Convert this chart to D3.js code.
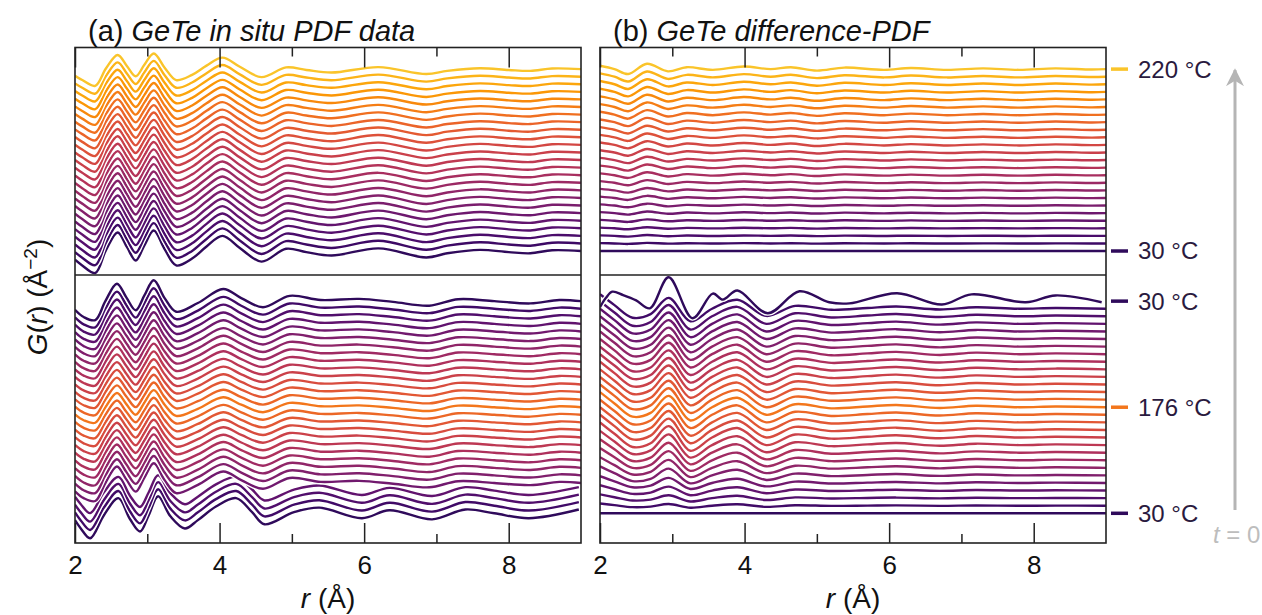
<!DOCTYPE html>
<html>
<head>
<meta charset="utf-8">
<script src="https://cdn.jsdelivr.net/npm/d3@7"></script>
<style>
  body { margin: 0; background: #fff; }
  svg { display: block; font-family: "Liberation Sans", Arial, sans-serif; }
</style>
</head>
<body>
<div id="chart"></div>
<script>
// ---- data ----
// temperatures of each scan, bottom curve first
const tempsUpper = [30, 38, 46, 54, 62, 70, 78, 85, 93, 101, 109, 117, 125, 133, 141, 149, 157, 164, 172, 180, 188, 196, 204, 212, 220];
const tempsLower = [30, 40, 51, 61, 72, 82, 93, 103, 113, 124, 134, 145, 155, 166, 176, 166, 155, 145, 134, 124, 113, 103, 93, 82, 72, 61, 51, 40, 30];

// G(r) shapes, [r, G] pairs
const profAUp = [[2.00,-2.3],[2.10,-3.8],[2.28,-5.8],[2.43,0.3],[2.59,4.9],[2.72,1.0],[2.84,-2.5],[2.96,1.5],[3.09,5.4],[3.24,0.5],[3.40,-3.8],[3.62,-2.0],[3.82,1.2],[4.04,4.0],[4.28,0.8],[4.58,-2.8],[4.92,0.6],[5.20,-0.3],[5.55,-1.2],[6.20,0.7],[6.86,-1.7],[7.15,-0.6],[7.60,0.3],[8.00,-0.3],[8.30,-0.6],[8.60,0.2],[9.00,0.0]];
const profALowInit = [[2.00,-1.8],[2.08,-4.0],[2.21,-6.6],[2.40,-0.5],[2.60,4.0],[2.76,-1.5],[2.90,-4.8],[3.02,-0.5],[3.15,4.5],[3.32,-0.8],[3.52,-4.0],[3.70,-1.8],[3.95,1.8],[4.23,4.0],[4.45,0.3],[4.62,-2.9],[5.03,0.3],[5.38,1.5],[5.97,-1.3],[6.35,0.8],[6.94,-1.6],[7.40,1.0],[7.80,0.0],[8.28,-1.3],[8.97,1.0]];
const profALowMain = [[2.00,-2.3],[2.12,-4.2],[2.28,-5.0],[2.42,0.0],[2.58,4.6],[2.71,1.0],[2.84,-2.4],[2.96,1.5],[3.09,5.5],[3.24,0.8],[3.40,-2.8],[3.70,-0.5],[4.05,3.2],[4.30,0.8],[4.60,-1.6],[4.97,1.4],[5.40,0.3],[5.93,0.6],[6.40,-0.2],[6.90,-1.2],[7.30,0.5],[7.80,0.0],[8.30,-0.6],[8.70,0.3],[9.00,0.0]];
const profBUp = [[2.00,0.9],[2.20,0.0],[2.39,-1.3],[2.65,1.4],[2.94,-0.6],[3.20,0.5],[3.56,-0.2],[3.99,0.7],[4.36,0.0],[4.64,0.5],[5.00,-0.4],[5.38,0.4],[5.93,-0.2],[6.30,0.3],[6.80,-0.2],[7.30,0.2],[7.80,-0.2],[8.30,0.2],[8.80,-0.1],[9.00,0.0]];
const profBLowMid = [[2.00,4.0],[2.20,1.0],[2.45,-2.5],[2.70,-1.5],[2.95,3.0],[3.25,-3.5],[3.55,0.0],[3.90,2.5],[4.30,-2.0],[4.70,0.8],[5.20,-0.3],[5.70,0.2],[6.10,0.6],[6.70,-0.2],[7.20,0.4],[7.80,0.0],[8.30,0.2],[9.00,0.0]];
const profBLowTop = [[2.00,-1.6],[2.08,0.8],[2.17,2.5],[2.32,1.6],[2.50,0.2],[2.69,-1.9],[2.95,6.3],[3.28,-4.5],[3.56,2.0],[3.70,0.4],[3.90,2.8],[4.32,-3.2],[4.76,2.6],[5.17,-0.3],[5.45,-0.6],[6.11,2.1],[6.73,-0.9],[7.14,1.8],[7.89,-0.3],[8.30,1.5],[8.94,-0.3]];

// which shape each curve uses and how strongly (bottom curve first)
const shapeAUp = Array(25).fill(0);
const ampAUp = [1.0, 0.99, 0.98, 0.97, 0.96, 0.95, 0.94, 0.93, 0.92, 0.91, 0.9, 0.89, 0.88, 0.87, 0.86, 0.85, 0.84, 0.83, 0.82, 0.81, 0.8, 0.79, 0.78, 0.77, 0.76];
const shapeALow = [0, 0, 0, 0, 1, 1, 1, 1, 1, 1, 1, 1, 1, 1, 1, 1, 1, 1, 1, 1, 1, 1, 1, 1, 1, 1, 1, 1, 1];
const ampALow = [1.0, 0.97, 0.94, 0.9, 0.95, 0.93, 0.92, 0.9, 0.88, 0.86, 0.85, 0.84, 0.83, 0.82, 0.82, 0.82, 0.83, 0.84, 0.85, 0.86, 0.87, 0.88, 0.89, 0.9, 0.92, 0.94, 0.96, 0.98, 1.0];
const shapeBUp = Array(25).fill(0);
const ampBUp = [0, 0.1, 0.15, 0.2, 0.25, 0.3, 0.35, 0.4, 0.45, 0.5, 0.55, 0.6, 0.63, 0.66, 0.7, 0.73, 0.76, 0.8, 0.83, 0.86, 0.89, 0.92, 0.95, 0.98, 1.0];
const shapeBLow = [0, 0, 0, 0, 0, 0, 0, 0, 0, 0, 0, 0, 0, 0, 0, 0, 0, 0, 0, 0, 0, 0, 0, 0, 0, 0, 0, 0, 1];
const ampBLow = [0, 0.15, 0.25, 0.35, 0.45, 0.6, 0.7, 0.8, 0.88, 0.94, 1.0, 1.0, 1.0, 1.0, 1.0, 1.0, 1.0, 1.0, 1.0, 1.0, 1.0, 1.0, 1.0, 1.0, 1.0, 1.0, 1.0, 0.95, 1.0];

const xTicksMajor = [2, 4, 6, 8];
const xTicksMinor = [3, 5, 7];
const legendItems = [
  { part: "upper", curve: 24, label: "220 °C" },
  { part: "upper", curve: 0, label: "30 °C" },
  { part: "lower", curve: 28, label: "30 °C" },
  { part: "lower", curve: 14, label: "176 °C" },
  { part: "lower", curve: 0, label: "30 °C" }
];

// ---- layout ----
const W = 1262, H = 615;
const STEP = 2;              // vertical offset between scans
const panels = [
  { id: "a", x0: 75, x1: 581, title: "(a) ", titleIt: "GeTe in situ PDF data" },
  { id: "b", x0: 600, x1: 1106, title: "(b) ", titleIt: "GeTe difference-PDF" }
];
const frameTop = 47.5, frameMid = 275, frameBottom = 543;

const svg = d3.select("#chart").append("svg")
  .attr("width", W).attr("height", H);

const color = T => d3.interpolateInferno(0.16 + 0.70 * (T - 30) / 190);

const yUp = d3.scaleLinear().domain([-6.33, 53.7]).range([frameMid, frameTop]);
const yLow = d3.scaleLinear().domain([-7.84, 62.9]).range([frameBottom, frameMid]);

const sections = {
  a: {
    upper: { temps: tempsUpper, shapes: [profAUp], shapeOf: shapeAUp, amps: ampAUp },
    lower: { temps: tempsLower, shapes: [profALowInit, profALowMain], shapeOf: shapeALow, amps: ampALow }
  },
  b: {
    upper: { temps: tempsUpper, shapes: [profBUp], shapeOf: shapeBUp, amps: ampBUp },
    lower: { temps: tempsLower, shapes: [profBLowMid, profBLowTop], shapeOf: shapeBLow, amps: ampBLow }
  }
};

const defs = svg.append("defs");

panels.forEach(p => {
  const x = d3.scaleLinear().domain([2, 9]).range([p.x0, p.x1]);
  const g = svg.append("g");

  [["upper", yUp, frameTop, frameMid], ["lower", yLow, frameMid, frameBottom]].forEach(([part, y, yt, yb]) => {
    const clipId = `clip-${p.id}-${part}`;
    defs.append("clipPath").attr("id", clipId)
      .append("rect").attr("x", p.x0).attr("y", yt).attr("width", p.x1 - p.x0).attr("height", yb - yt);
    const sec = sections[p.id][part];
    const line = d3.line()
      .x(d => x(d[0]))
      .y(d => y(d[1]))
      .curve(d3.curveCatmullRom.alpha(0.5));
    const cg = g.append("g").attr("clip-path", `url(#${clipId})`);
    sec.temps.forEach((T, i) => {
      const shape = sec.shapes[sec.shapeOf[i]];
      const pts = shape.map(([r, v]) => [r, i * STEP + sec.amps[i] * v]);
      cg.append("path").attr("d", line(pts))
        .attr("fill", "none").attr("stroke", "#fff").attr("stroke-width", 5);
      cg.append("path").attr("d", line(pts))
        .attr("fill", "none").attr("stroke", color(T)).attr("stroke-width", 2.4)
        .attr("stroke-linejoin", "round");
    });
  });

  // axes with inward ticks
  const axB = (ticks, size, labels) => d3.axisBottom(x).tickValues(ticks).tickSize(-size)
    .tickPadding(13).tickFormat(labels ? d3.format("d") : "");
  const axT = (ticks, size) => d3.axisTop(x).tickValues(ticks).tickSize(-size).tickFormat("");

  [axB(xTicksMajor, 20, true), axB(xTicksMinor, 9, false)].forEach(ax => {
    const a = g.append("g").attr("transform", `translate(0,${frameBottom})`).call(ax);
    a.select(".domain").remove();
    a.selectAll("line").attr("stroke", "#222").attr("stroke-width", 1.5);
    a.selectAll("text").attr("font-size", 26).attr("fill", "#111")
      .attr("font-family", "'Liberation Sans', Arial, sans-serif");
  });
  [axT(xTicksMajor, 20), axT(xTicksMinor, 9)].forEach(ax => {
    const a = g.append("g").attr("transform", `translate(0,${frameTop})`).call(ax);
    a.select(".domain").remove();
    a.selectAll("line").attr("stroke", "#222").attr("stroke-width", 1.5);
  });

  // frame and divider
  g.append("rect").attr("x", p.x0).attr("y", frameTop).attr("width", p.x1 - p.x0).attr("height", frameBottom - frameTop)
    .attr("fill", "none").attr("stroke", "#222").attr("stroke-width", 1.6);
  g.append("line").attr("x1", p.x0).attr("x2", p.x1).attr("y1", frameMid).attr("y2", frameMid)
    .attr("stroke", "#222").attr("stroke-width", 1.6);

  // title
  const t = g.append("text").attr("x", p.x0 + 13).attr("y", 41).attr("font-size", 29).attr("fill", "#111");
  t.append("tspan").text(p.title);
  t.append("tspan").attr("font-style", "italic").text(p.titleIt);

  // x label
  const xl = g.append("text").attr("x", (p.x0 + p.x1) / 2).attr("y", 608)
    .attr("text-anchor", "middle").attr("font-size", 28).attr("fill", "#111");
  xl.append("tspan").attr("font-style", "italic").text("r");
  xl.append("tspan").text(" (Å)");
});

// y label
const yl = svg.append("text")
  .attr("transform", "translate(47,297) rotate(-90)")
  .attr("text-anchor", "middle").attr("font-size", 28).attr("fill", "#111");
yl.append("tspan").attr("font-style", "italic").text("G");
yl.append("tspan").text("(");
yl.append("tspan").attr("font-style", "italic").text("r");
yl.append("tspan").text(") (Å");
yl.append("tspan").attr("font-size", 19).attr("baseline-shift", "super").text("−2");
yl.append("tspan").text(")");

// legend on the right
legendItems.forEach(d => {
  const y = d.part === "upper" ? yUp : yLow;
  const T = (d.part === "upper" ? tempsUpper : tempsLower)[d.curve];
  const yy = y(d.curve * STEP);
  svg.append("line").attr("x1", 1111).attr("x2", 1128).attr("y1", yy).attr("y2", yy)
    .attr("stroke", color(T)).attr("stroke-width", 3.5);
  svg.append("text").attr("x", 1138).attr("y", yy).attr("dy", "0.35em")
    .attr("font-size", 24).attr("fill", "#2a1a3e").text(d.label);
});

// time arrow
defs.append("marker").attr("id", "arrow").attr("viewBox", "0 0 10 10")
  .attr("refX", 9).attr("refY", 5).attr("markerWidth", 6).attr("markerHeight", 6)
  .attr("orient", "auto-start-reverse")
  .append("path").attr("d", "M0,0 L10,5 L0,10 L3,5 Z").attr("fill", "#b5b5b5");
svg.append("line").attr("x1", 1235).attr("x2", 1235).attr("y1", 510).attr("y2", 70)
  .attr("stroke", "#b5b5b5").attr("stroke-width", 3).attr("marker-end", "url(#arrow)");
const tl = svg.append("text").attr("x", 1213).attr("y", 543).attr("font-size", 24).attr("fill", "#bdbdbd");
tl.append("tspan").attr("font-style", "italic").text("t");
tl.append("tspan").text(" = 0");
</script>
</body>
</html>
